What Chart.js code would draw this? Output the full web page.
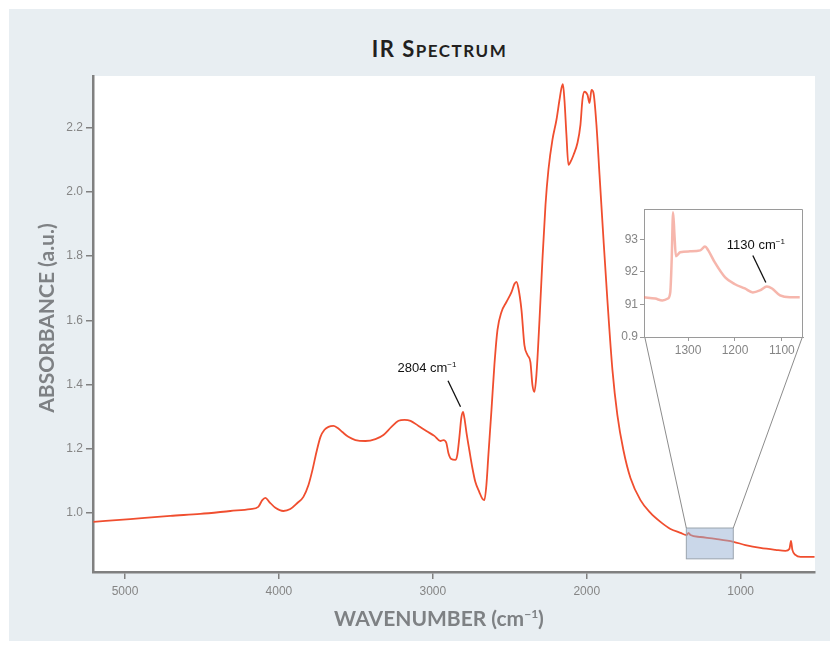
<!DOCTYPE html>
<html>
<head>
<meta charset="utf-8">
<script src="https://cdn.jsdelivr.net/npm/chart.js@4"></script>
<style>
  body { margin: 0; background: #fff; }
  #panel { position: absolute; left: 9px; top: 9px; width: 821px; height: 632px; background: #e8eef2; }
  #title { position: absolute; left: 20px; width: 839px; top: 38px; line-height: 22px; text-align: center;
           font-family: Lato, sans-serif; font-weight: 700; color: #231f20; letter-spacing: 1.5px; }
  #title .big { font-size: 22px; }
  #title .small { font-size: 17px; }
  #main { position: absolute; left: 0; top: 0; }
  #inset { position: absolute; left: 604px; top: 199px; }
</style>
</head>
<body>
<div id="panel"></div>
<div id="title"><span class="big">IR S</span><span class="small">PECTRUM</span></div>
<canvas id="main" width="839" height="650"></canvas>
<canvas id="inset" width="205" height="160"></canvas>
<script>
const wavenumber = [5205, 4966, 4706, 4511, 4316, 4186, 4134, 4108, 4088, 4062,
  4023, 3971, 3926, 3880, 3841, 3808, 3782, 3756, 3730, 3704,
  3678, 3646, 3620, 3588, 3549, 3503, 3438, 3373, 3321, 3269,
  3223, 3184, 3145, 3093, 3042, 2990, 2951, 2931, 2912, 2899,
  2880, 2854, 2841, 2828, 2815, 2804, 2795, 2782, 2763, 2743,
  2724, 2698, 2678, 2665, 2652, 2639, 2619, 2600, 2580, 2554,
  2522, 2489, 2470, 2457, 2444, 2424, 2405, 2385, 2366, 2353,
  2340, 2327, 2307, 2288, 2268, 2249, 2223, 2197, 2177, 2164,
  2155, 2145, 2132, 2119, 2106, 2086, 2060, 2041, 2028, 2015,
  1995, 1982, 1969, 1956, 1937, 1917, 1891, 1866, 1833, 1801,
  1762, 1716, 1651, 1586, 1521, 1456, 1391, 1352, 1339, 1326,
  1261, 1164, 1047, 969, 872, 774, 709, 683, 673, 664,
  644, 611, 520];
const absorbance = [0.972, 0.981, 0.991, 0.997, 1.006, 1.012, 1.019, 1.040, 1.047, 1.034,
  1.016, 1.006, 1.012, 1.031, 1.050, 1.087, 1.134, 1.190, 1.237, 1.259,
  1.268, 1.271, 1.265, 1.252, 1.237, 1.227, 1.224, 1.230, 1.243, 1.268,
  1.287, 1.290, 1.287, 1.271, 1.255, 1.240, 1.224, 1.227, 1.218, 1.187,
  1.168, 1.165, 1.181, 1.234, 1.296, 1.315, 1.296, 1.252, 1.196, 1.140,
  1.097, 1.065, 1.044, 1.040, 1.087, 1.181, 1.321, 1.461, 1.570, 1.626,
  1.657, 1.688, 1.713, 1.720, 1.700, 1.632, 1.523, 1.492, 1.470, 1.399,
  1.377, 1.430, 1.601, 1.788, 1.960, 2.069, 2.162, 2.224, 2.287, 2.324,
  2.336, 2.287, 2.178, 2.084, 2.093, 2.115, 2.153, 2.209, 2.287, 2.312,
  2.302, 2.277, 2.318, 2.308, 2.209, 2.053, 1.850, 1.664, 1.445, 1.305,
  1.196, 1.109, 1.040, 1.000, 0.972, 0.950, 0.938, 0.931, 0.938, 0.931,
  0.925, 0.919, 0.910, 0.900, 0.891, 0.885, 0.882, 0.888, 0.913, 0.885,
  0.869, 0.863, 0.863];

const xTicks = [5000, 4000, 3000, 2000, 1000];
const yTicks = [1.0, 1.2, 1.4, 1.6, 1.8, 2.0, 2.2];

// zoomed region (inset)
const insetWavenumber = [1394, 1370, 1355, 1343, 1338, 1335, 1332, 1329, 1326, 1317,
  1296, 1274, 1264, 1257, 1243, 1221, 1200, 1179, 1162, 1147,
  1132, 1121, 1104, 1083, 1062];
const insetValue = [91.22, 91.18, 91.12, 91.18, 91.37, 92.35, 93.83, 93.12, 92.48, 92.60,
  92.63, 92.66, 92.78, 92.66, 92.29, 91.83, 91.62, 91.49, 91.37, 91.43,
  91.55, 91.49, 91.28, 91.22, 91.22];
const insetXTicks = [1300, 1200, 1100];
const insetYTicks = [90, 91, 92, 93];
const insetYLabels = ["0.9", "91", "92", "93"];

const zoomBox = { xFrom: 1353, xTo: 1048, yFrom: 0.857, yTo: 0.953 };
const peakLabel = { x: 2804, y: 1.315, text: "2804 cm", sup: "\u22121" };
const insetPeakLabel = { x: 1130, y: 91.55, text: "1130 cm", sup: "\u22121" };

// inset plot box on the page
const insetBox = { left: 644, top: 209, right: 803, bottom: 337 };

const axisGray = "#808080";
const tickGray = "#858585";
const lineRed = "#f04e2f";

function drawParts(ctx, parts, x, y, align) {
  let total = 0;
  for (const p of parts) {
    ctx.font = p.font;
    p.w = ctx.measureText(p.t).width;
    total += p.w;
  }
  let cx = align === "center" ? x - total / 2 : x;
  ctx.textAlign = "left";
  ctx.textBaseline = "alphabetic";
  for (const p of parts) {
    ctx.font = p.font;
    ctx.fillText(p.t, cx, y - (p.raise || 0));
    cx += p.w;
  }
}

function labelParts(lbl) {
  return [
    { t: lbl.text, font: "13px 'Liberation Sans'" },
    { t: lbl.sup, font: "8px 'Liberation Sans'", raise: 5 },
  ];
}

function fixTicks(values) {
  return (scale) => { scale.ticks = values.map((v) => ({ value: v })); };
}

const mainPlugin = {
  id: "mainDecor",
  beforeDraw(chart) {
    const { ctx, chartArea: a } = chart;
    ctx.save();
    ctx.fillStyle = "#fff";
    ctx.fillRect(a.left, a.top, a.right - a.left, a.bottom - a.top);
    ctx.restore();
  },
  afterDatasetsDraw(chart) {
    const { ctx, scales } = chart;
    const x = scales.x, y = scales.y;
    ctx.save();
    // zoom box
    const bx1 = x.getPixelForValue(zoomBox.xFrom), bx2 = x.getPixelForValue(zoomBox.xTo);
    const by1 = y.getPixelForValue(zoomBox.yTo), by2 = y.getPixelForValue(zoomBox.yFrom);
    ctx.fillStyle = "rgba(150,176,212,0.5)";
    ctx.fillRect(bx1, by1, bx2 - bx1, by2 - by1);
    ctx.strokeStyle = "#9aa4ae";
    ctx.lineWidth = 1;
    ctx.strokeRect(bx1, by1, bx2 - bx1, by2 - by1);
    // connectors to inset
    ctx.strokeStyle = "#8c8c8c";
    ctx.beginPath();
    ctx.moveTo(insetBox.left + 1, insetBox.bottom + 1);
    ctx.lineTo(bx1, by1);
    ctx.moveTo(insetBox.right - 1, insetBox.bottom + 1);
    ctx.lineTo(bx2, by1);
    ctx.stroke();
    // peak annotation
    const px = x.getPixelForValue(peakLabel.x), py = y.getPixelForValue(peakLabel.y);
    ctx.strokeStyle = "#111";
    ctx.lineWidth = 1.3;
    ctx.beginPath();
    ctx.moveTo(px - 15, py - 31);
    ctx.lineTo(px - 2.5, py - 5);
    ctx.stroke();
    ctx.fillStyle = "#111";
    drawParts(ctx, labelParts(peakLabel), px - 36, py - 40, "center");
    ctx.restore();
  },
  afterDraw(chart) {
    const { ctx } = chart;
    ctx.save();
    ctx.fillStyle = "#7e8184";
    drawParts(ctx, [
      { t: "WAVENUMBER (cm", font: "bold 21px Lato" },
      { t: "\u22121", font: "bold 12px Lato", raise: 8 },
      { t: ")", font: "bold 21px Lato" },
    ], 439, 626, "center");
    ctx.translate(54, 318);
    ctx.rotate(-Math.PI / 2);
    drawParts(ctx, [{ t: "ABSORBANCE (a.u.)", font: "bold 21px Lato" }], 0, 0, "center");
    ctx.restore();
  },
};

const insetPlugin = {
  id: "insetDecor",
  beforeDraw(chart) {
    const { ctx, chartArea: a } = chart;
    ctx.save();
    ctx.fillStyle = "#fff";
    ctx.fillRect(a.left, a.top, a.right - a.left, a.bottom - a.top);
    ctx.restore();
  },
  afterDraw(chart) {
    const { ctx, chartArea: a, scales } = chart;
    ctx.save();
    ctx.strokeStyle = "#9a9a9a";
    ctx.lineWidth = 1;
    ctx.beginPath();
    ctx.moveTo(a.left, a.top + 0.5);
    ctx.lineTo(a.right - 0.5, a.top + 0.5);
    ctx.lineTo(a.right - 0.5, a.bottom);
    ctx.stroke();
    const px = scales.x.getPixelForValue(insetPeakLabel.x), py = scales.y.getPixelForValue(insetPeakLabel.y);
    ctx.strokeStyle = "#111";
    ctx.lineWidth = 1.3;
    ctx.beginPath();
    ctx.moveTo(px - 15, py - 31);
    ctx.lineTo(px - 2, py - 4);
    ctx.stroke();
    ctx.fillStyle = "#111";
    drawParts(ctx, labelParts(insetPeakLabel), px - 12, py - 38, "center");
    ctx.restore();
  },
};

new Chart(document.getElementById("inset"), {
  type: "line",
  data: {
    datasets: [{
      data: insetWavenumber.map((w, i) => ({ x: w, y: insetValue[i] })),
      borderColor: "rgba(238,110,90,0.5)",
      borderWidth: 2.5,
      pointRadius: 0,
      cubicInterpolationMode: "monotone",
    }],
  },
  options: {
    responsive: false,
    animation: false,
    layout: { padding: { top: 10, right: 6, left: 0, bottom: 0 } },
    plugins: { legend: { display: false }, tooltip: { enabled: false } },
    scales: {
      x: {
        type: "linear", reverse: true, min: 1055, max: 1394,
        afterBuildTicks: fixTicks(insetXTicks),
        afterFit: (s) => { s.height = 22; },
        grid: { drawOnChartArea: false, tickLength: 4, color: "#9a9a9a" },
        border: { color: "#9a9a9a", width: 1 },
        ticks: {
          color: tickGray, font: { family: "Liberation Sans", size: 12 }, padding: 2, maxRotation: 0,
          callback: (v) => String(v),
        },
      },
      y: {
        min: 90, max: 93.93,
        afterBuildTicks: fixTicks(insetYTicks),
        afterFit: (s) => { s.width = 40; },
        grid: { drawOnChartArea: false, tickLength: 4, color: "#9a9a9a" },
        border: { color: "#9a9a9a", width: 1 },
        ticks: {
          color: tickGray, font: { family: "Liberation Sans", size: 12 }, padding: 2,
          callback: (v) => insetYLabels[insetYTicks.indexOf(v)],
        },
      },
    },
  },
  plugins: [insetPlugin],
});

new Chart(document.getElementById("main"), {
  type: "line",
  data: {
    datasets: [{
      data: wavenumber.map((w, i) => ({ x: w, y: absorbance[i] })),
      borderColor: lineRed,
      borderWidth: 1.8,
      pointRadius: 0,
      cubicInterpolationMode: "monotone",
    }],
  },
  options: {
    responsive: false,
    animation: false,
    layout: { padding: { top: 76, right: 24, left: 0, bottom: 0 } },
    plugins: { legend: { display: false }, tooltip: { enabled: false } },
    scales: {
      x: {
        type: "linear", reverse: true, min: 517, max: 5208,
        afterBuildTicks: fixTicks(xTicks),
        afterFit: (s) => { s.height = 78; },
        grid: { drawOnChartArea: false, tickLength: 7, color: axisGray, lineWidth: 1.5 },
        border: { color: axisGray, width: 2.5 },
        ticks: {
          color: tickGray, font: { family: "Liberation Sans", size: 12 }, padding: 5, maxRotation: 0,
          callback: (v) => String(v),
        },
      },
      y: {
        min: 0.816, max: 2.361,
        afterBuildTicks: fixTicks(yTicks),
        afterFit: (s) => { s.width = 93; },
        grid: { drawOnChartArea: false, tickLength: 7, color: axisGray, lineWidth: 1.5 },
        border: { color: axisGray, width: 2.5 },
        ticks: {
          color: tickGray, font: { family: "Liberation Sans", size: 12 }, padding: 3,
          callback: (v) => v.toFixed(1),
        },
      },
    },
  },
  plugins: [mainPlugin],
});
</script>
</body>
</html>
